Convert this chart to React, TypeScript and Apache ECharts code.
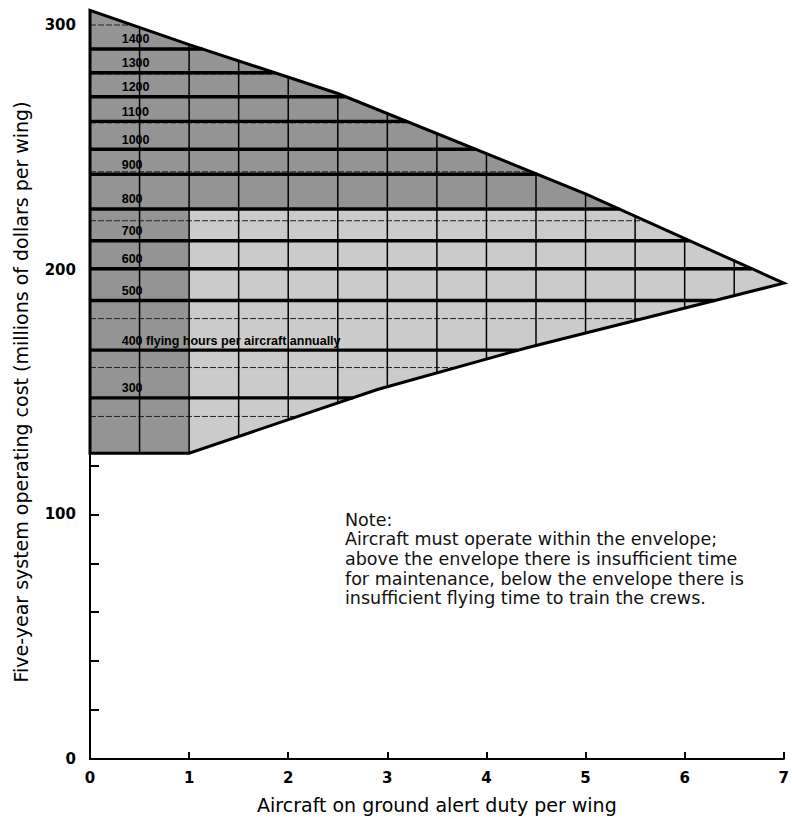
import React, { useEffect, useRef } from "react";
import * as echarts from "echarts";

// Envelope boundary (x = aircraft on alert, value = cost, $M)
const envelopeTopX = [0, 1, 2.5, 5, 7];
const envelopeTopCost = [306, 292, 272, 231, 194.5];
const envelopeBottomX = [0, 1, 2.9, 4.4, 7];
const envelopeBottomCost = [125, 125, 151, 168, 194.5];

// Flying-hour contours
const flyingHours = [300, 400, 500, 600, 700, 800, 900, 1000, 1100, 1200, 1300, 1400];
const flyingHourCost = [147.6, 167.1, 187.4, 200.4, 211.8, 224.8, 239.0, 249.2, 260.6, 270.7, 280.5, 290.2];

// Graph-paper grid inside the envelope
const gridLineX = [0.5, 1, 1.5, 2, 2.5, 3, 3.5, 4, 4.5, 5, 5.5, 6, 6.5];
const gridLineCost = [140, 160, 180, 200, 220, 240, 260, 280, 300];

// Shading: dense halftone above this cost and left of this x
const denseCostFloor = 225;
const denseColumnX = 1;

const xTickValues = [0, 1, 2, 3, 4, 5, 6, 7];
const yLabelValues = [0, 100, 200, 300];

const noteText = [
  "Note:",
  "Aircraft must operate within the envelope;",
  "above the envelope there is insufficient time",
  "for maintenance, below the envelope there is",
  "insufficient flying time to train the crews.",
];

function lerpAt(xs: number[], ys: number[], x: number) {
  for (let i = 0; i < xs.length - 1; i++) {
    if (x <= xs[i + 1]) {
      const t = (x - xs[i]) / (xs[i + 1] - xs[i]);
      return ys[i] + t * (ys[i + 1] - ys[i]);
    }
  }
  return ys[ys.length - 1];
}
function xWhere(xs: number[], ys: number[], v: number) {
  for (let i = 0; i < xs.length - 1; i++) {
    const a = ys[i], b = ys[i + 1];
    if (a !== b && (v - a) * (v - b) <= 0) {
      return xs[i] + ((v - a) / (b - a)) * (xs[i + 1] - xs[i]);
    }
  }
  return xs[xs.length - 1];
}
const apexCost = envelopeTopCost[envelopeTopCost.length - 1];
function rightEnd(v: number) {
  return v >= apexCost
    ? xWhere(envelopeTopX, envelopeTopCost, v)
    : xWhere(envelopeBottomX, envelopeBottomCost, v);
}

export default function App() {
  const ref = useRef<HTMLDivElement>(null);
  useEffect(() => {
    if (!ref.current) return;
    const chart = echarts.init(ref.current, undefined, { renderer: "svg" });
    const font = '"DejaVu Sans", sans-serif';

    const renderItem = (_params: any, api: any) => {
      const c = (x: number, y: number) => api.coord([x, y]);
      const children: any[] = [];

      const outline: number[][] = [];
      envelopeBottomX.forEach((x, i) => outline.push(c(x, envelopeBottomCost[i])));
      for (let i = envelopeTopX.length - 2; i >= 0; i--) outline.push(c(envelopeTopX[i], envelopeTopCost[i]));

      children.push({ type: "polygon", shape: { points: outline }, style: { fill: "#cbcbcb", stroke: "none" } });

      const xd = xWhere(envelopeTopX, envelopeTopCost, denseCostFloor);
      const dense: number[][] = [
        c(0, envelopeBottomCost[0]),
        c(denseColumnX, lerpAt(envelopeBottomX, envelopeBottomCost, denseColumnX)),
        c(denseColumnX, denseCostFloor),
        c(xd, denseCostFloor),
      ];
      for (let i = envelopeTopX.length - 1; i >= 0; i--) {
        if (envelopeTopX[i] < xd) dense.push(c(envelopeTopX[i], envelopeTopCost[i]));
      }
      children.push({ type: "polygon", shape: { points: dense }, style: { fill: "#949494", stroke: "none" } });

      gridLineCost.forEach((v) => {
        const p1 = c(0, v), p2 = c(rightEnd(v), v);
        children.push({ type: "line", shape: { x1: p1[0], y1: p1[1], x2: p2[0], y2: p2[1] }, style: { stroke: "#222", lineWidth: 1, lineDash: [6, 2] } });
      });
      gridLineX.forEach((x) => {
        const p1 = c(x, lerpAt(envelopeBottomX, envelopeBottomCost, x));
        const p2 = c(x, lerpAt(envelopeTopX, envelopeTopCost, x));
        children.push({ type: "line", shape: { x1: p1[0], y1: p1[1], x2: p2[0], y2: p2[1] }, style: { stroke: "#000", lineWidth: 1.5 } });
      });
      flyingHourCost.forEach((v) => {
        const p1 = c(0, v), p2 = c(rightEnd(v), v);
        children.push({ type: "line", shape: { x1: p1[0], y1: p1[1], x2: p2[0], y2: p2[1] }, style: { stroke: "#000", lineWidth: 3.4 } });
      });
      children.push({ type: "polygon", shape: { points: outline }, style: { fill: "none", stroke: "#000", lineWidth: 3, lineJoin: "miter" } });

      flyingHours.forEach((h, i) => {
        const p = c(0.32, flyingHourCost[i]);
        const label = i === 1 ? `${h} flying hours per aircraft annually` : String(h);
        children.push({
          type: "text",
          x: p[0],
          y: p[1] - 3,
          style: { text: label, fill: "#000", font: 'bold 12.5px "Liberation Sans", sans-serif', align: "left", verticalAlign: "bottom" },
        });
      });
      return { type: "group", children };
    };

    chart.setOption({
      animation: false,
      backgroundColor: "#fff",
      grid: { left: 90, right: 2, top: 25, bottom: 56, containLabel: false },
      xAxis: {
        type: "value",
        min: xTickValues[0],
        max: xTickValues[xTickValues.length - 1],
        interval: 1,
        axisLine: { show: true, onZero: false, lineStyle: { color: "#000", width: 2 } },
        axisTick: { show: true, inside: true, length: 7, lineStyle: { color: "#000", width: 2 } },
        axisLabel: { color: "#000", fontSize: 15, fontWeight: "bold", fontFamily: font, margin: 11 },
        splitLine: { show: false },
        name: "Aircraft on ground alert duty per wing",
        nameLocation: "middle",
        nameGap: 36,
        nameTextStyle: { color: "#000", fontSize: 19, fontFamily: font },
      },
      yAxis: {
        type: "value",
        min: 0,
        max: 300,
        interval: 20,
        axisLine: { show: true, onZero: false, lineStyle: { color: "#000", width: 2 } },
        axisTick: { show: true, inside: true, length: 9, lineStyle: { color: "#000", width: 2 } },
        axisLabel: {
          color: "#000",
          fontSize: 15,
          fontWeight: "bold",
          fontFamily: font,
          margin: 14,
          formatter: (v: number) => (yLabelValues.includes(v) ? String(v) : ""),
        },
        splitLine: { show: false },
        name: "Five-year system operating cost (millions of dollars per wing)",
        nameLocation: "middle",
        nameGap: 60,
        nameRotate: 90,
        nameTextStyle: { color: "#000", fontSize: 19, fontFamily: font },
      },
      graphic: [
        {
          type: "text",
          left: 345,
          top: 510,
          style: { text: noteText.join("\n"), font: '17.5px "DejaVu Sans", sans-serif', lineHeight: 19.6, fill: "#111" },
        },
      ],
      series: [
        {
          type: "custom",
          coordinateSystem: "cartesian2d",
          clip: false,
          silent: true,
          data: [[0, 0]],
          renderItem,
          z: 1,
        },
      ],
    });
    return () => chart.dispose();
  }, []);
  return <div ref={ref} style={{ width: 792, height: 819, position: "absolute", left: 0, top: 0 }} />;
}
